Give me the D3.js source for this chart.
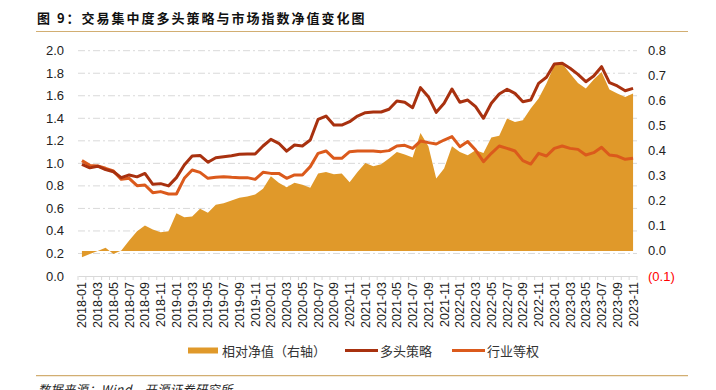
<!DOCTYPE html>
<html>
<head>
<meta charset="utf-8">
<script src="https://cdn.jsdelivr.net/npm/d3@7"></script>
<style>
  body { margin: 0; background: #fff; }
  text { font-family: "Liberation Sans", Arial, sans-serif; }
  .cjk { font-family: "Noto Sans CJK SC", sans-serif; }
</style>
</head>
<body>
<div id="chart"></div>
<script>

// monthly dates 2018-01 .. 2023-11
var months = [];
for (var yr = 2018; yr <= 2023; yr++) {
    for (var m = 1; m <= 12; m++) {
        if (yr == 2023 && m == 12) break;
        months.push(yr + "-" + (m < 10 ? "0" + m : m));
    }
}

// 多头策略 (left axis)
var longStrategy = [0.99, 0.96, 0.975, 0.945, 0.926, 0.873, 0.897, 0.88, 0.91, 0.814,
    0.82, 0.80, 0.873, 0.985, 1.065, 1.07, 1.01, 1.05, 1.059, 1.068,
    1.08, 1.083, 1.083, 1.154, 1.213, 1.178, 1.108, 1.163, 1.154, 1.207,
    1.391, 1.42, 1.34, 1.34, 1.37, 1.42, 1.45, 1.456, 1.456, 1.48,
    1.553, 1.542, 1.494, 1.672, 1.592, 1.453, 1.533, 1.66, 1.542, 1.562,
    1.503, 1.40, 1.533, 1.615, 1.657, 1.621, 1.547, 1.562, 1.71, 1.764,
    1.882, 1.888, 1.844, 1.79, 1.725, 1.775, 1.858, 1.716, 1.687, 1.645,
    1.666];

// 行业等权 (left axis)
var industryEqual = [1.024, 0.982, 0.976, 0.956, 0.932, 0.858, 0.867, 0.802, 0.808, 0.74,
    0.749, 0.728, 0.728, 0.867, 0.941, 0.92, 0.867, 0.876, 0.882, 0.876,
    0.873, 0.873, 0.858, 0.92, 0.911, 0.911, 0.867, 0.897, 0.897, 0.971,
    1.089, 1.11, 1.045, 1.045, 1.104, 1.11, 1.11, 1.11, 1.104, 1.113,
    1.154, 1.16, 1.133, 1.198, 1.184, 1.172, 1.207, 1.237, 1.148, 1.193,
    1.118, 1.015, 1.089, 1.154, 1.133, 1.11, 1.024, 0.994, 1.089, 1.065,
    1.133, 1.154, 1.133, 1.124, 1.074, 1.095, 1.142, 1.074, 1.065, 1.036,
    1.045];

// 相对净值 (right axis)
var relative = [-0.025, -0.012, 0.0, 0.013, -0.012, 0.002, 0.042, 0.079, 0.102, 0.086,
    0.075, 0.079, 0.151, 0.135, 0.138, 0.169, 0.153, 0.185, 0.191, 0.202,
    0.213, 0.218, 0.226, 0.249, 0.298, 0.273, 0.255, 0.273, 0.265, 0.253,
    0.309, 0.315, 0.306, 0.309, 0.275, 0.315, 0.351, 0.338, 0.346, 0.369,
    0.395, 0.385, 0.373, 0.471, 0.418, 0.289, 0.329, 0.418, 0.395, 0.382,
    0.402, 0.391, 0.453, 0.46, 0.529, 0.515, 0.522, 0.569, 0.609, 0.669,
    0.742, 0.749, 0.709, 0.671, 0.649, 0.685, 0.715, 0.645, 0.629, 0.615,
    0.629];

var leftTicks = [0, 0.2, 0.4, 0.6, 0.8, 1.0, 1.2, 1.4, 1.6, 1.8, 2.0];
var rightTicks = [-0.1, 0, 0.1, 0.2, 0.3, 0.4, 0.5, 0.6, 0.7, 0.8];

var W = 716, H = 390;
var plot = {left: 78, right: 637, top: 50.7, bottom: 276};

var svg = d3.select("#chart").append("svg")
    .attr("width", W)
    .attr("height", H);

// title + rules
svg.append("text")
    .attr("class", "cjk")
    .attr("x", 37).attr("y", 23)
    .attr("font-size", 13).attr("font-weight", "bold")
    .attr("letter-spacing", 2)
    .attr("fill", "#111")
    .text("图 9：交易集中度多头策略与市场指数净值变化图");
svg.append("line")
    .attr("x1", 36).attr("x2", 688).attr("y1", 31.5).attr("y2", 31.5)
    .attr("stroke", "#D2AE72").attr("stroke-width", 1.2);
svg.append("line")
    .attr("x1", 36).attr("x2", 688).attr("y1", 375.7).attr("y2", 375.7)
    .attr("stroke", "#D2AE72").attr("stroke-width", 1.2);
svg.append("text")
    .attr("class", "cjk")
    .attr("x", 38).attr("y", 394)
    .attr("font-size", 12).attr("font-style", "italic")
    .attr("letter-spacing", 0.6)
    .attr("fill", "#222")
    .text("数据来源：Wind，开源证券研究所");

var x = d3.scaleBand().domain(months).range([plot.left, plot.right]);
var cx = function(d) { return x(d) + x.bandwidth() / 2; };

var yL = d3.scaleLinear().domain([0, 2]).range([plot.bottom, plot.top]);
var yR = d3.scaleLinear().domain([-0.1, 0.8]).range([plot.bottom, plot.top]);

// gridlines
svg.append("g")
    .selectAll("line")
    .data(leftTicks.slice(1))
  .enter().append("line")
    .attr("x1", plot.left).attr("x2", plot.right)
    .attr("y1", function(d) { return yL(d); })
    .attr("y2", function(d) { return yL(d); })
    .attr("stroke", "#D9D9D9")
    .attr("stroke-width", 1)
    .attr("stroke-dasharray", "7,3,2,3");

// area (right axis)
var area = d3.area()
    .x(function(d, i) { return cx(months[i]); })
    .y0(yR(0))
    .y1(function(d) { return yR(d); });
svg.append("path")
    .datum(relative)
    .attr("d", area)
    .attr("fill", "#E0992A");

// lines (left axis)
var line = d3.line()
    .x(function(d, i) { return cx(months[i]); })
    .y(function(d) { return yL(d); });

svg.append("path")
    .datum(industryEqual)
    .attr("d", line)
    .attr("fill", "none")
    .attr("stroke", "#DB5A1C")
    .attr("stroke-width", 3)
    .attr("stroke-linejoin", "round");

svg.append("path")
    .datum(longStrategy)
    .attr("d", line)
    .attr("fill", "none")
    .attr("stroke", "#A8310F")
    .attr("stroke-width", 3)
    .attr("stroke-linejoin", "round");

// left axis labels
svg.append("g")
    .selectAll("text")
    .data(leftTicks)
  .enter().append("text")
    .attr("x", 64)
    .attr("y", function(d) { return yL(d) + 4.5; })
    .attr("text-anchor", "end")
    .attr("font-size", 13)
    .attr("fill", "#222")
    .text(function(d) { return d.toFixed(1); });

// right axis labels
svg.append("g")
    .selectAll("text")
    .data(rightTicks)
  .enter().append("text")
    .attr("x", 648)
    .attr("y", function(d) { return yR(d) + 4.5; })
    .attr("font-size", 13)
    .attr("fill", function(d) { return d < 0 ? "#FF0000" : "#222"; })
    .text(function(d) { return d < 0 ? "(" + Math.abs(d).toFixed(1) + ")" : d.toFixed(1); });

// x axis
var xAxis = d3.axisBottom(x)
    .tickSizeOuter(0)
    .tickSize(0)
    .tickFormat("");
var gx = svg.append("g")
    .attr("transform", "translate(0," + plot.bottom + ")")
    .call(xAxis);
gx.select(".domain").attr("stroke", "#D9D9D9");
gx.selectAll(".bound")
    .data(months.concat(["end"]))
  .enter().append("line")
    .attr("x1", function(d, i) { return plot.left + i * x.bandwidth(); })
    .attr("x2", function(d, i) { return plot.left + i * x.bandwidth(); })
    .attr("y1", 0).attr("y2", 4)
    .attr("stroke", "#D9D9D9");

svg.append("g")
    .selectAll("text")
    .data(months.filter(function(d, i) { return i % 2 == 0; }))
  .enter().append("text")
    .attr("transform", function(d) {
        return "translate(" + (cx(d) + 4.5) + ",282) rotate(-90)";
    })
    .attr("text-anchor", "end")
    .attr("font-size", 12.5)
    .attr("fill", "#222")
    .text(function(d) { return d; });

// legend
var lg = svg.append("g").attr("class", "cjk");
lg.append("rect")
    .attr("x", 188).attr("y", 347.5).attr("width", 30).attr("height", 6)
    .attr("fill", "#E0992A");
lg.append("text")
    .attr("class", "cjk")
    .attr("x", 222).attr("y", 355.5)
    .attr("font-size", 13).attr("fill", "#333")
    .text("相对净值（右轴）");
lg.append("line")
    .attr("x1", 345).attr("x2", 378).attr("y1", 350.5).attr("y2", 350.5)
    .attr("stroke", "#A8310F").attr("stroke-width", 3);
lg.append("text")
    .attr("class", "cjk")
    .attr("x", 380).attr("y", 355.5)
    .attr("font-size", 13).attr("fill", "#333")
    .text("多头策略");
lg.append("line")
    .attr("x1", 452).attr("x2", 485).attr("y1", 350.5).attr("y2", 350.5)
    .attr("stroke", "#DB5A1C").attr("stroke-width", 3);
lg.append("text")
    .attr("class", "cjk")
    .attr("x", 487).attr("y", 355.5)
    .attr("font-size", 13).attr("fill", "#333")
    .text("行业等权");

</script>
</body>
</html>
